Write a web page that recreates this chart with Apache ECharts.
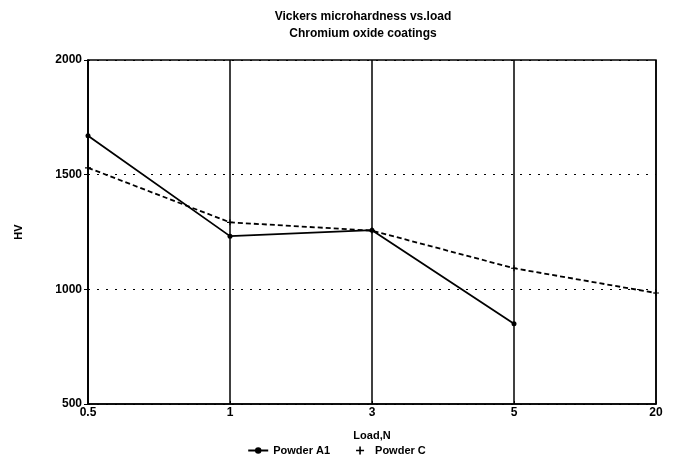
<!DOCTYPE html>
<html>
<head>
<meta charset="utf-8">
<script src="https://cdn.jsdelivr.net/npm/echarts@6/dist/echarts.min.js"></script>
<style>
  html, body { margin: 0; padding: 0; background: #fff; }
  #chart { width: 673px; height: 461px; }
</style>
</head>
<body>
<div id="chart"></div>
<script>
  const loads = ['0.5', '1', '3', '5', '20']
  const powderA1 = [1670, 1232, 1258, 850, null]
  const powderC = [1530, 1292, 1256, 1092, 984]
  const yTicks = [500, 1000, 1500, 2000]

  const plusIcon = 'path://M4,0 L6,0 L6,4 L10,4 L10,6 L6,6 L6,10 L4,10 L4,6 L0,6 L0,4 L4,4 Z'
  const font = 'Liberation Sans'

  const chart = echarts.init(document.getElementById('chart'))
  chart.setOption({
    animation: false,
    title: {
      text: 'Vickers microhardness vs.load\nChromium oxide coatings',
      left: 358,
      textAlign: 'center',
      top: 3,
      textStyle: {
        fontFamily: font,
        fontWeight: 'bold',
        fontSize: 12,
        lineHeight: 17,
        color: '#000'
      }
    },
    grid: {
      left: 88,
      right: 17,
      top: 60,
      bottom: 57,
      show: true,
      borderColor: '#000',
      borderWidth: 1.5
    },
    legend: {
      bottom: 0,
      left: 'center',
      itemGap: 26,
      itemWidth: 20,
      itemHeight: 8,
      textStyle: { fontFamily: font, fontWeight: 'bold', fontSize: 11, color: '#000' },
      data: [
        { name: 'Powder A1' },
        { name: 'Powder C', icon: plusIcon, itemStyle: { color: '#000' } }
      ]
    },
    xAxis: {
      type: 'category',
      data: loads,
      boundaryGap: false,
      name: 'Load,N',
      nameLocation: 'middle',
      nameGap: 26,
      nameTextStyle: { fontFamily: font, fontWeight: 'bold', fontSize: 11, color: '#000' },
      axisLine: { lineStyle: { color: '#000', width: 1.5 } },
      axisTick: { show: true, length: 3, inside: true, lineStyle: { color: '#000' } },
      axisLabel: {
        fontFamily: font, fontWeight: 'bold', fontSize: 12, color: '#000', margin: 3,
        showMinLabel: true, showMaxLabel: true
      },
      splitLine: { show: true, lineStyle: { color: '#000', width: 1.5, type: 'solid' } }
    },
    yAxis: {
      type: 'value',
      min: yTicks[0],
      max: yTicks[yTicks.length - 1],
      interval: 500,
      name: 'HV',
      nameLocation: 'middle',
      nameGap: 64,
      nameRotate: 90,
      nameTextStyle: { fontFamily: font, fontWeight: 'bold', fontSize: 11, color: '#000' },
      axisLine: { show: true, lineStyle: { color: '#000', width: 1.5 } },
      axisTick: { show: true, length: 4, lineStyle: { color: '#000' } },
      axisLabel: {
        fontFamily: font, fontWeight: 'bold', fontSize: 12, color: '#000', margin: 6,
        formatter: (v) => String(v)
      },
      splitLine: { show: true, lineStyle: { color: '#000', width: 1.2, type: [2, 7] } }
    },
    series: [
      {
        name: 'Powder A1',
        type: 'line',
        data: powderA1,
        symbol: 'circle',
        symbolSize: 5,
        itemStyle: { color: '#000' },
        lineStyle: { color: '#000', width: 1.8 }
      },
      {
        name: 'Powder C',
        type: 'line',
        data: powderC,
        symbol: plusIcon,
        symbolSize: 6,
        itemStyle: { color: '#000' },
        lineStyle: { color: '#000', width: 1.8, type: [5, 3] }
      }
    ]
  })
</script>
</body>
</html>
